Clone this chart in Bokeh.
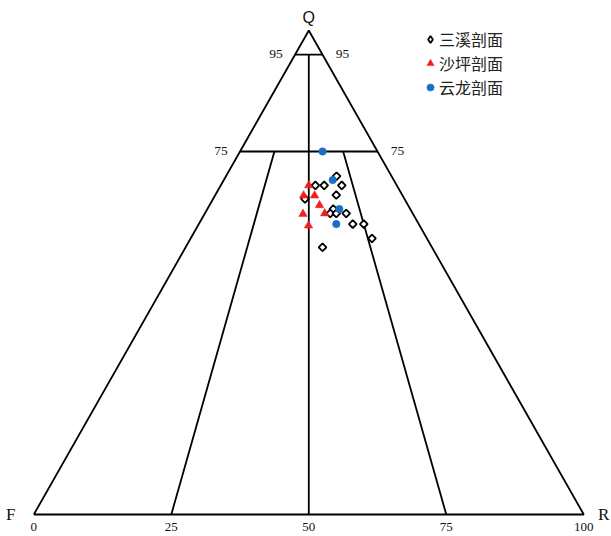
import numpy as np
from bokeh.plotting import figure
from bokeh.models import Range1d, Legend, LegendItem
from bokeh.embed import file_html
from bokeh.resources import INLINE
from bokeh.core.properties import value

# ---- data (percent Q, F, R) ----
sanxi_Q = [69.9, 68.0, 68.0, 68.0, 66.0, 65.2, 63.1, 62.2, 62.2, 62.2, 60.0, 60.0, 57.1, 55.2]
sanxi_F = [10.0, 14.8, 13.2, 10.0, 12.0, 18.1, 14.0, 15.0, 13.9, 12.1, 12.0, 10.0, 10.0, 19.9]
sanxi_R = [20.1, 17.2, 18.8, 22.0, 22.0, 16.7, 22.9, 22.8, 23.9, 25.7, 28.0, 30.0, 33.0, 24.9]

shaping_Q = [68.0, 65.9, 65.9, 63.9, 62.2, 62.1, 59.7]
shaping_F = [16.0, 18.0, 16.0, 16.1, 16.0, 20.0, 20.2]
shaping_R = [16.0, 16.1, 18.1, 20.0, 21.8, 17.9, 20.1]

yunlong_Q = [75.0, 69.1, 63.1, 60.0]
yunlong_F = [10.0, 11.1, 12.9, 15.0]
yunlong_R = [15.0, 19.8, 24.0, 25.0]

series_names = ["三溪剖面", "沙坪剖面", "云龙剖面"]
base_ticks = [0, 25, 50, 75, 100]
base_tick_labels = ["0", "25", "50", "75", "100"]
q_levels = [95, 75]
q_level_labels = ["95", "75"]
base_dividers = [25, 50, 75]
vertex_labels = ["Q", "F", "R"]


def tern(q, f, r):
    q = np.asarray(q, float); f = np.asarray(f, float); r = np.asarray(r, float)
    t = q + f + r
    return 100 * (r + q / 2) / t, 100 * q / t


p = figure(width=611, height=536,
           x_range=Range1d(-6.055, 105.04), y_range=Range1d(-4.545, 106.2),
           output_backend="svg", toolbar_location=None, min_border=0,
           x_axis_type=None, y_axis_type=None)
p.grid.visible = False
p.outline_line_color = None

LW = 1.8
# outline
ox, oy = tern([0, 0, 100, 0], [100, 0, 0, 100], [0, 100, 0, 0])
xs, ys = [list(ox)], [list(oy)]
# horizontal Q levels
for L in q_levels:
    hx, hy = tern([L, L], [100 - L, 0], [0, 100 - L])
    xs.append(list(hx)); ys.append(list(hy))
# base dividers toward Q apex
for v in base_dividers:
    top = 95 if v == 50 else 75
    dx, dy = tern([0, top], [100 - v, (100 - top) * (100 - v) / 100],
                  [v, (100 - top) * v / 100])
    xs.append(list(dx)); ys.append(list(dy))
p.multi_line(xs, ys, line_color="black", line_width=LW)

serif = value("Liberation Serif")
TC = "#111111"

# vertex labels
qx, qy = tern([100], [0], [0])
p.text(qx, qy, text=[vertex_labels[0]], text_font=value("Liberation Sans"),
       text_font_size="16px", text_align="center", text_baseline="middle",
       y_offset=-13, text_color=TC)
fx, fy = tern([0], [100], [0])
p.text(fx, fy, text=[vertex_labels[1]], text_font=serif, text_font_size="17px",
       text_align="center", text_baseline="middle", x_offset=-23, y_offset=0,
       text_color=TC)
rx, ry = tern([0], [0], [100])
p.text(rx, ry, text=[vertex_labels[2]], text_font=serif, text_font_size="17px",
       text_align="center", text_baseline="middle", x_offset=20, y_offset=0,
       text_color=TC)

# base tick labels
bx, by = tern([0] * len(base_ticks), [100 - v for v in base_ticks], base_ticks)
p.text(bx, by, text=base_tick_labels, text_font=serif, text_font_size="13px",
       text_align="center", text_baseline="middle", y_offset=12,
       text_color=TC)

# Q level labels
lx, ly = tern(q_levels, [100 - L for L in q_levels], [0] * len(q_levels))
p.text(lx, ly, text=q_level_labels, text_font=serif, text_font_size="13.5px",
       text_align="center", text_baseline="middle", x_offset=-19, y_offset=-1,
       text_color=TC)
rlx, rly = tern(q_levels, [0] * len(q_levels), [100 - L for L in q_levels])
p.text(rlx, rly, text=q_level_labels, text_font=serif, text_font_size="13.5px",
       text_align="center", text_baseline="middle", x_offset=20, y_offset=-1,
       text_color=TC)

# data points
sx, sy = tern(sanxi_Q, sanxi_F, sanxi_R)
r1 = p.scatter(sx, sy, marker="square", angle=np.pi / 4, size=5.5,
               fill_color="white", line_color="black", line_width=1.8)
tx, ty = tern(shaping_Q, shaping_F, shaping_R)
r2 = p.scatter(tx, ty, marker="triangle", size=8.5,
               fill_color="#f01e1e", line_color="#f01e1e", line_width=0.5)
cx, cy = tern(yunlong_Q, yunlong_F, yunlong_R)
r3 = p.scatter(cx, cy, marker="circle", size=7.5,
               fill_color="#1a6fc2", line_color="#1a6fc2", line_width=0.5)

# hidden twin of the 三溪 series, used only for its legend glyph
# (the legend draws markers unrotated, so a diamond marker is used there)
r1_leg = p.scatter(sx, sy, marker="diamond", fill_color="white",
                   line_color="black", line_width=1.8, visible=False)

legend = Legend(items=[LegendItem(label=series_names[0], renderers=[r1_leg]),
                       LegendItem(label=series_names[1], renderers=[r2]),
                       LegendItem(label=series_names[2], renderers=[r3])],
                location=(421, 437),
                label_text_font="Noto Sans CJK SC", label_text_font_size="16px",
                label_text_color="#222222",
                glyph_width=18, glyph_height=20, label_standoff=0, spacing=0,
                padding=0, margin=0, border_line_color=None,
                background_fill_alpha=0)
p.add_layout(legend)

open("out.html", "w").write(file_html(p, INLINE))
